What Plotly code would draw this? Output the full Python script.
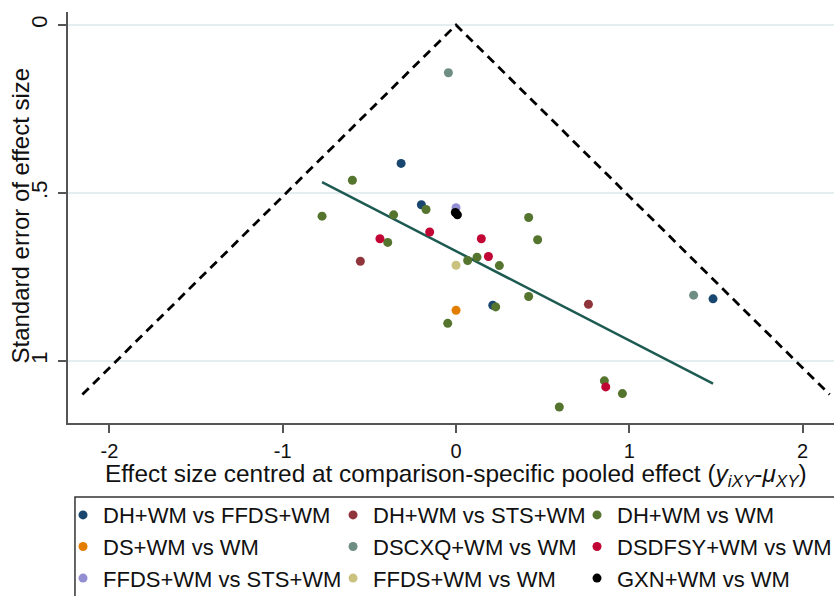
import plotly.graph_objects as go

# ---------------- data ----------------
series_names = [
    "DH+WM vs FFDS+WM", "DS+WM vs WM", "FFDS+WM vs STS+WM",
    "DH+WM vs STS+WM", "DSCXQ+WM vs WM", "FFDS+WM vs WM",
    "DH+WM vs WM", "DSDFSY+WM vs WM", "GXN+WM vs WM",
]
series_colors = [
    "#1a476f", "#e37e00", "#938dd2",
    "#90353b", "#6e8e84", "#cac27e",
    "#55752f", "#c10534", "#000000",
]
legend_ids = ["legend", "legend", "legend",
              "legend2", "legend2", "legend2",
              "legend3", "legend3", "legend3"]

# effect size centred at comparison-specific pooled effect
x_dh_ffds = [-0.317, -0.200, 0.212, 1.483]
y_dh_ffds = [0.412, 0.535, 0.834, 0.815]
x_ds = [0.0]
y_ds = [0.849]
x_ffds_sts = [0.0]
y_ffds_sts = [0.544]
x_dh_sts = [-0.552, 0.764]
y_dh_sts = [0.703, 0.831]
x_dscxq = [-0.044, 1.371]
y_dscxq = [0.142, 0.804]
x_ffds_wm = [0.0]
y_ffds_wm = [0.715]
x_dh_wm = [-0.598, -0.773, -0.360, -0.173, -0.394, 0.067, 0.121, 0.250,
           0.419, 0.471, 0.419, 0.229, -0.048, 0.856, 0.960, 0.596]
y_dh_wm = [0.462, 0.569, 0.565, 0.549, 0.647, 0.701, 0.691, 0.716,
           0.573, 0.639, 0.808, 0.839, 0.888, 1.059, 1.097, 1.137]
x_dsdfsy = [-0.152, -0.439, 0.187, 0.146, 0.864]
y_dsdfsy = [0.616, 0.636, 0.689, 0.636, 1.077]
x_gxn = [-0.004, 0.008]
y_gxn = [0.558, 0.565]

series_x = [x_dh_ffds, x_ds, x_ffds_sts, x_dh_sts, x_dscxq, x_ffds_wm,
            x_dh_wm, x_dsdfsy, x_gxn]
series_y = [y_dh_ffds, y_ds, y_ffds_sts, y_dh_sts, y_dscxq, y_ffds_wm,
            y_dh_wm, y_dsdfsy, y_gxn]

# pseudo 95% confidence funnel
se_max = 1.1
z_crit = 1.96
# small-study regression line (SE on centred effect)
reg_intercept = 0.673
reg_slope = 0.266

x_ticks = [-2, -1, 0, 1, 2]
x_tick_labels = ["-2", "-1", "0", "1", "2"]
y_ticks = [0, 0.5, 1]
y_tick_labels = ["0", ".5", "1"]

x_title = ("Effect size centred at comparison-specific pooled effect "
           "(<i>y<sub>iXY</sub></i>-<i>μ<sub>XY</sub></i>)")
y_title = "Standard error of effect size"

FONT = "Liberation Sans, Arial, sans-serif"

fig = go.Figure()

# funnel
fig.add_trace(go.Scatter(
    x=[-z_crit * se_max, 0, z_crit * se_max], y=[se_max, 0, se_max],
    mode="lines", line=dict(color="black", width=2.8, dash="9px,6px"),
    showlegend=False, hoverinfo="skip"))

# regression line over range of observed effects
all_x = [v for xs in series_x for v in xs]
xr = [min(all_x), max(all_x)]
fig.add_trace(go.Scatter(
    x=xr, y=[reg_intercept + reg_slope * v for v in xr],
    mode="lines", line=dict(color="#1d5b52", width=2.5),
    showlegend=False, hoverinfo="skip"))

# vertical null line
fig.add_vline(x=0, line=dict(color="#ff1a1a", width=2))

for name, col, lg, xs, ys in zip(series_names, series_colors, legend_ids,
                                 series_x, series_y):
    fig.add_trace(go.Scatter(
        x=xs, y=ys, mode="markers", name=name, legend=lg,
        marker=dict(color=col, size=9, line=dict(width=0))))

X0, X1 = -2.239, 2.181
Y0, Y1 = 1.1845, -0.0387

leg_common = dict(font=dict(family=FONT, size=22, color="#111"),
                  bgcolor="rgba(0,0,0,0)", borderwidth=0,
                  orientation="v", xanchor="left", yanchor="top",
                  tracegroupgap=0, itemwidth=30)

fig.update_layout(
    width=834, height=596,
    margin=dict(l=68, r=0, t=12, b=173, autoexpand=False),
    paper_bgcolor="white", plot_bgcolor="white",
    font=dict(family=FONT, size=21, color="#111"),
    legend=dict(x=-0.0065, y=-0.173, **leg_common),
    legend2=dict(x=0.346, y=-0.173, **leg_common),
    legend3=dict(x=0.6645, y=-0.173, **leg_common),
    xaxis=dict(
        range=[X0, X1], tickvals=x_ticks, ticktext=x_tick_labels,
        ticks="outside", ticklen=8,
        tickwidth=1.5, tickcolor="#555", showline=True, linecolor="#555",
        linewidth=2, showgrid=False, zeroline=False, ticklabelstandoff=1,
        tickfont=dict(size=20)),
    yaxis=dict(
        range=[Y0, Y1], tickvals=y_ticks, ticktext=y_tick_labels,
        tickangle=-90, ticks="outside", ticklen=8, tickwidth=1.5,
        tickcolor="#555", showline=True, linecolor="#555", linewidth=2,
        showgrid=True, gridcolor="#e4edf0", gridwidth=1.5, zeroline=False,
        tickfont=dict(size=22), ticklabelstandoff=2),
    annotations=[
        dict(text=x_title, xref="paper", yref="paper", x=0.5, y=0,
             xshift=5, yshift=-52, xanchor="center", yanchor="middle",
             showarrow=False, font=dict(size=24.4, family=FONT, color="#111")),
        dict(text=y_title, xref="paper", yref="paper", x=0, y=0.5,
             xshift=-48, yshift=2, xanchor="center", yanchor="middle",
             textangle=-90, showarrow=False,
             font=dict(size=24, family=FONT, color="#111")),
    ],
    shapes=[dict(type="rect", xref="paper", yref="paper",
                 x0=0.0091, x1=1.02, y0=-0.18, y1=-0.47,
                 line=dict(color="#333", width=1.5), fillcolor="rgba(0,0,0,0)",
                 layer="below")],
)

fig.write_html("out.html")
